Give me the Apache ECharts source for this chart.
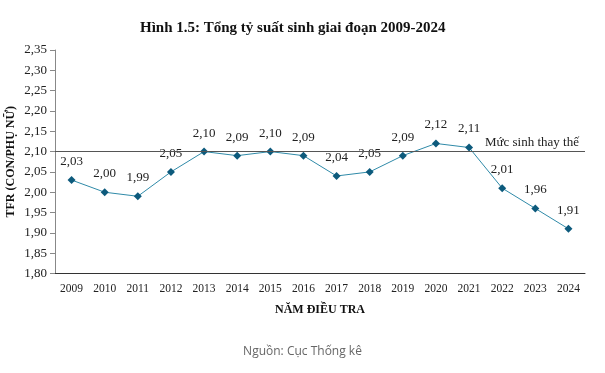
<!DOCTYPE html>
<html><head><meta charset="utf-8">
<script src="https://cdn.jsdelivr.net/npm/echarts@6/dist/echarts.min.js"></script>
<style>html,body{margin:0;padding:0;background:#fff}#c{width:605px;height:373px}</style>
</head><body><div id="c"></div>
<script>
var years = ['2009','2010','2011','2012','2013','2014','2015','2016','2017','2018','2019','2020','2021','2022','2023','2024'];
var tfr = [2.03,2.00,1.99,2.05,2.10,2.09,2.10,2.09,2.04,2.05,2.09,2.12,2.11,2.01,1.96,1.91];
var replacementLevel = 2.10;
var replacementLabel = 'Mức sinh thay thế';
var titleText = 'Hình 1.5: Tổng tỷ suất sinh giai đoạn 2009-2024';
var yName = 'TFR (CON/PHỤ NỮ)';
var xName = 'NĂM ĐIỀU TRA';
var sourceText = 'Nguồn: Cục Thống kê';

var serif = '"Liberation Serif","DejaVu Serif",serif';
var chart = echarts.init(document.getElementById('c'));
chart.setOption({
  animation:false,
  title:[
    {text:titleText,left:135,top:16,textStyle:{fontFamily:serif,fontWeight:'bold',fontSize:15,color:'#111'}},
    {text:sourceText,left:'center',top:341,textStyle:{fontFamily:'"Open Sans","Noto Sans",sans-serif',fontWeight:'normal',fontSize:12,color:'#666'}}
  ],
  grid:{left:55,right:20,top:50,bottom:99.5,outerBoundsMode:'none',containLabel:false},
  xAxis:{
    type:'category',data:years,boundaryGap:true,
    name:xName,nameLocation:'middle',nameGap:30,nameMoveOverlap:false,
    nameTextStyle:{fontFamily:serif,fontWeight:'bold',fontSize:12,color:'#111'},
    axisLine:{lineStyle:{color:'#333',width:1}},
    axisTick:{show:false},
    axisLabel:{fontFamily:serif,fontSize:11.5,color:'#222',margin:9}
  },
  yAxis:{
    type:'value',min:1.80,max:2.35,interval:0.05,
    name:yName,nameLocation:'middle',nameGap:38,nameMoveOverlap:false,
    nameTextStyle:{fontFamily:serif,fontWeight:'bold',fontSize:12,color:'#111'},
    axisLine:{show:true,lineStyle:{color:'#888'}},
    axisTick:{show:true,length:5,lineStyle:{color:'#888'}},
    splitLine:{show:false},
    axisLabel:{fontFamily:serif,fontSize:13,color:'#222',margin:8,formatter:function(v){return v.toFixed(2).replace('.',',');}}
  },
  series:[{
    type:'line',data:tfr,
    symbol:'diamond',symbolSize:8,
    lineStyle:{color:'#2f8aa8',width:1},
    itemStyle:{color:'#0d5a7c'},
    label:{show:true,position:'top',distance:8,fontFamily:serif,fontSize:13,color:'#222',
      formatter:function(p){return p.value.toFixed(2).replace('.',',');}},
    markLine:{
      silent:true,symbol:'none',
      lineStyle:{color:'#555',width:1,type:'solid'},
      label:{show:true,position:'insideEndTop',formatter:replacementLabel,fontFamily:serif,fontSize:13,color:'#222',distance:[6,3]},
      data:[{yAxis:replacementLevel}]
    }
  }]
});
</script></body></html>
